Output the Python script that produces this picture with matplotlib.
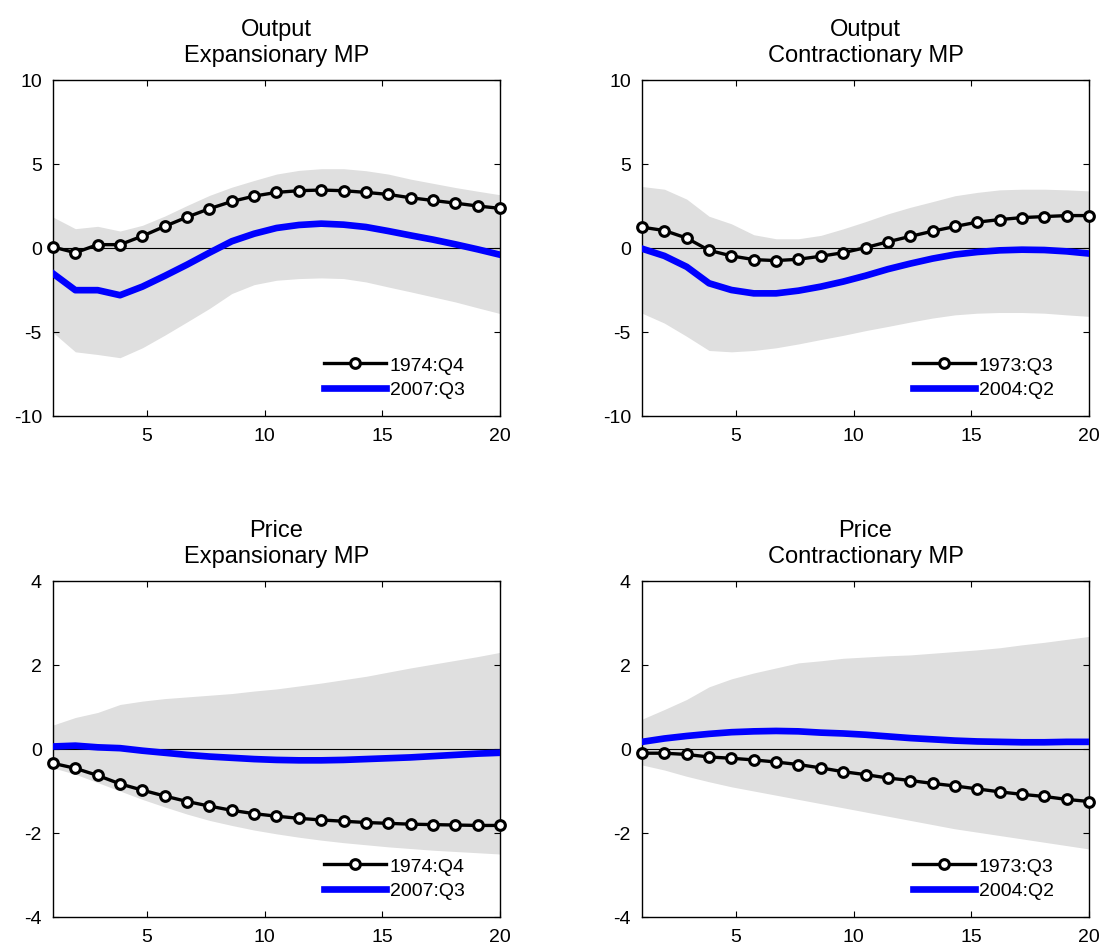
import numpy as np
import matplotlib
matplotlib.use('Agg')
import matplotlib.pyplot as plt

plt.rcParams['font.family'] = ['Liberation Sans', 'DejaVu Sans']
plt.rcParams['axes.unicode_minus'] = False

# horizon (21 points spread over 1..20)
horizon = np.linspace(1, 20, 21)

# Output, expansionary MP
out_exp_old = [0.06, -0.28, 0.2, 0.2, 0.71, 1.29, 1.84, 2.34, 2.77, 3.09, 3.31,
               3.41, 3.45, 3.41, 3.31, 3.19, 2.99, 2.83, 2.67, 2.5, 2.36]
out_exp_new = [-1.52, -2.51, -2.51, -2.81, -2.3, -1.66, -0.99, -0.28, 0.4, 0.85, 1.19,
               1.37, 1.45, 1.39, 1.25, 1.01, 0.75, 0.5, 0.22, -0.08, -0.4]
out_exp_hi = [1.84, 1.15, 1.29, 1.01, 1.35, 1.9, 2.53, 3.13, 3.62, 4.02, 4.4,
              4.62, 4.72, 4.72, 4.6, 4.4, 4.1, 3.85, 3.6, 3.38, 3.17]
out_exp_lo = [-5.03, -6.18, -6.34, -6.53, -5.94, -5.19, -4.4, -3.6, -2.71, -2.18, -1.92,
              -1.82, -1.78, -1.82, -2.02, -2.32, -2.61, -2.91, -3.21, -3.56, -3.9]

# Output, contractionary MP
out_con_old = [1.24, 1.04, 0.59, -0.14, -0.47, -0.69, -0.75, -0.67, -0.49, -0.28, 0.02,
               0.37, 0.69, 1.0, 1.28, 1.54, 1.69, 1.81, 1.87, 1.93, 1.93]
out_con_new = [-0.04, -0.47, -1.12, -2.1, -2.5, -2.7, -2.7, -2.54, -2.3, -2.0, -1.65,
               -1.26, -0.93, -0.63, -0.39, -0.24, -0.14, -0.1, -0.12, -0.2, -0.33]
out_con_hi = [3.66, 3.5, 2.91, 1.89, 1.44, 0.79, 0.55, 0.55, 0.75, 1.14, 1.57,
              2.03, 2.42, 2.76, 3.11, 3.31, 3.46, 3.5, 3.5, 3.46, 3.4]
out_con_lo = [-3.88, -4.47, -5.26, -6.1, -6.18, -6.1, -5.94, -5.71, -5.45, -5.2, -4.92,
              -4.67, -4.41, -4.17, -3.98, -3.88, -3.84, -3.84, -3.88, -3.98, -4.07]

# Price, expansionary MP
pr_exp_old = [-0.34, -0.46, -0.63, -0.83, -0.98, -1.12, -1.25, -1.36, -1.46, -1.54, -1.6,
              -1.65, -1.69, -1.72, -1.75, -1.77, -1.79, -1.8, -1.81, -1.82, -1.82]
pr_exp_new = [0.06, 0.08, 0.04, 0.02, -0.04, -0.09, -0.14, -0.18, -0.21, -0.24, -0.26,
              -0.27, -0.27, -0.26, -0.24, -0.22, -0.2, -0.17, -0.14, -0.11, -0.09]
pr_exp_hi = [0.57, 0.75, 0.87, 1.06, 1.14, 1.2, 1.24, 1.28, 1.32, 1.38, 1.43,
             1.5, 1.57, 1.65, 1.73, 1.83, 1.93, 2.02, 2.11, 2.2, 2.3]
pr_exp_lo = [-0.45, -0.6, -0.8, -1.0, -1.2, -1.38, -1.55, -1.7, -1.82, -1.93, -2.02,
             -2.1, -2.17, -2.23, -2.28, -2.33, -2.37, -2.41, -2.44, -2.47, -2.5]

# Price, contractionary MP
pr_con_old = [-0.1, -0.1, -0.13, -0.19, -0.22, -0.26, -0.31, -0.37, -0.45, -0.54, -0.61,
              -0.69, -0.75, -0.82, -0.88, -0.95, -1.02, -1.08, -1.13, -1.2, -1.25]
pr_con_new = [0.17, 0.25, 0.31, 0.36, 0.4, 0.42, 0.43, 0.42, 0.39, 0.37, 0.34,
              0.3, 0.26, 0.23, 0.2, 0.18, 0.17, 0.16, 0.16, 0.17, 0.17]
pr_con_hi = [0.71, 0.94, 1.18, 1.48, 1.67, 1.81, 1.93, 2.05, 2.1, 2.16, 2.19,
             2.22, 2.24, 2.28, 2.32, 2.36, 2.41, 2.48, 2.54, 2.61, 2.68]
pr_con_lo = [-0.38, -0.5, -0.65, -0.78, -0.9, -1.0, -1.1, -1.2, -1.3, -1.4, -1.5,
             -1.6, -1.7, -1.8, -1.9, -1.98, -2.06, -2.14, -2.22, -2.3, -2.38]

titles = ['Output\nExpansionary MP', 'Output\nContractionary MP',
          'Price\nExpansionary MP', 'Price\nContractionary MP']
labels_old = ['1974:Q4', '1973:Q3', '1974:Q4', '1973:Q3']
labels_new = ['2007:Q3', '2004:Q2', '2007:Q3', '2004:Q2']

panels = [
    (out_exp_old, out_exp_new, out_exp_hi, out_exp_lo),
    (out_con_old, out_con_new, out_con_hi, out_con_lo),
    (pr_exp_old, pr_exp_new, pr_exp_hi, pr_exp_lo),
    (pr_con_old, pr_con_new, pr_con_hi, pr_con_lo),
]
ylims = [(-10, 10), (-10, 10), (-4, 4), (-4, 4)]
yticks = [[-10, -5, 0, 5, 10], [-10, -5, 0, 5, 10], [-4, -2, 0, 2, 4], [-4, -2, 0, 2, 4]]

W, H = 1101, 945
boxes = [(53, 81), (642, 81), (53, 582), (642, 582)]
aw, ah = 447, 336

fig = plt.figure(figsize=(W / 100, H / 100), dpi=100)

for i, (old, new, hi, lo) in enumerate(panels):
    x0, y0 = boxes[i]
    ax = fig.add_axes([x0 / W, 1 - (y0 + ah) / H, aw / W, ah / H])
    ax.fill_between(horizon, lo, hi, color='#dfdfdf', linewidth=0)
    ax.axhline(0, color='black', linewidth=0.8)
    ax.plot(horizon, old, color='black', linewidth=2.4, marker='o', markersize=7,
            markerfacecolor='white', markeredgecolor='black', markeredgewidth=2.2,
            label=labels_old[i], clip_on=False, zorder=4)
    ax.plot(horizon, new, color='#0000ff', linewidth=4.8, label=labels_new[i], zorder=3)
    ax.set_xlim(1, 20)
    ax.set_ylim(*ylims[i])
    ax.set_xticks([5, 10, 15, 20])
    ax.set_yticks(yticks[i])
    ax.tick_params(direction='in', top=True, right=True, length=4, width=0.8,
                   labelsize=14, pad=8)
    for s in ax.spines.values():
        s.set_linewidth(1.0)
    ax.set_title(titles[i], fontsize=17, pad=14, linespacing=1.2)
    ax.legend(loc='lower right', frameon=False, fontsize=14, handlelength=3.2,
              handletextpad=0.2, labelspacing=0.35, borderaxespad=0.5,
              bbox_to_anchor=(0.96, 0.0))

fig.savefig('out.png', dpi=100)
